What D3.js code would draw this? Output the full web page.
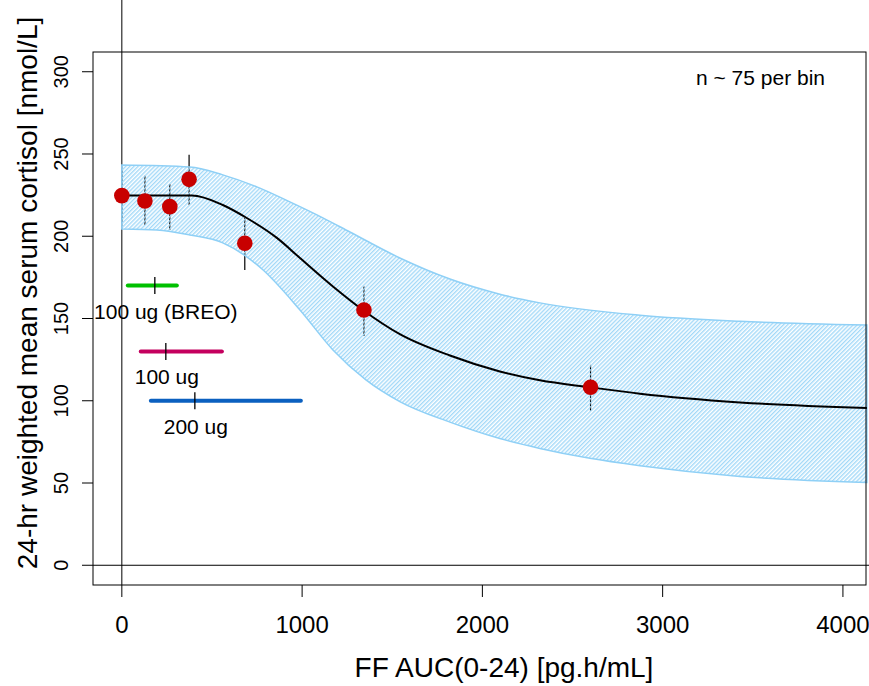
<!DOCTYPE html>
<html>
<head>
<meta charset="utf-8">
<script src="https://cdn.jsdelivr.net/npm/d3@7"></script>
<style>
  html, body { margin: 0; padding: 0; background: #fff; }
  svg { display: block; font-family: "Liberation Sans", Arial, Helvetica, sans-serif; }
</style>
</head>
<body>
<svg id="chart" width="869" height="686"></svg>
<script>
// Binned observations: FF exposure (pg.h/mL) vs mean cortisol (nmol/L)
const binAUC   = [0, 128, 266, 373, 682, 1343, 2600];
const binMean  = [224.7, 221.4, 218.0, 234.6, 195.7, 155.2, 108.2];
const binHigh  = [240.0, 236.7, 231.8, 249.5, 211.1, 169.4, 121.8];
const binLow   = [209.0, 206.9, 203.8, 219.1, 179.5, 139.4, 93.8];

// Model-predicted median curve
const curveAUC  = [0, 388, 560, 693, 860, 988, 1171, 1337, 1542, 1820, 2097, 2319, 2596, 2874, 3429, 4133];
const curveMean = [224.7, 224.7, 219.0, 211.1, 199.0, 186.8, 169.5, 155.2, 140.5, 127.5, 117.8, 112.4, 108.2, 104.3, 99.0, 95.6];

// Prediction interval of the model
const bandAUC   = [0, 377, 560, 749, 932, 1115, 1265, 1542, 1820, 2097, 2319, 2874, 3429, 4133];
const bandUpper = [243.3, 242.1, 237.3, 230.0, 220.9, 211.2, 202.6, 186.8, 174.0, 164.8, 159.5, 152.0, 148.3, 146.0];
const bandLowX  = [0, 194, 377, 560, 693, 782, 988, 1171, 1354, 1542, 1820, 2097, 2319, 2596, 2874, 3429, 4133];
const bandLower = [204.4, 203.8, 200.8, 196.0, 187.5, 179.6, 155.2, 130.9, 112.7, 99.5, 87.0, 77.0, 71.0, 65.0, 60.5, 54.0, 50.3];

// Exposure ranges by dose (lower, median, upper AUC) at a cortisol level
const doseLabel  = ["100 ug (BREO)", "100 ug", "200 ug"];
const doseLow    = [33, 105, 161];
const doseMedian = [183, 244, 405];
const doseHigh   = [305, 555, 993];
const doseLevel  = [170, 130, 100];
const doseColor  = ["#00c000", "#c4005e", "#0b60c0"];

const xTicks = [0, 1000, 2000, 3000, 4000];
const yTicks = [0, 50, 100, 150, 200, 250, 300];

const svg = d3.select("#chart");
const L = 93, R = 866, T = 52, B = 585;

const x = d3.scaleLinear().domain([-160, 4128]).range([L, R]);
const y = d3.scaleLinear().domain([-12, 312]).range([B, T]);

// hatch fill for the interval band
const defs = svg.append("defs");
const pat = defs.append("pattern")
  .attr("id", "hatch")
  .attr("patternUnits", "userSpaceOnUse")
  .attr("width", 2.9).attr("height", 10)
  .attr("patternTransform", "rotate(45)");
pat.append("line")
  .attr("x1", 0.7).attr("y1", -1).attr("x2", 0.7).attr("y2", 11)
  .attr("stroke", "#a3d9f8").attr("stroke-width", 1.4);

// reference lines at zero
svg.append("line")
  .attr("x1", x(0)).attr("x2", x(0)).attr("y1", 0).attr("y2", B)
  .attr("stroke", "#000").attr("stroke-width", 1);
svg.append("line")
  .attr("x1", L).attr("x2", 869).attr("y1", y(0)).attr("y2", y(0))
  .attr("stroke", "#000").attr("stroke-width", 1);

// error bars for bins
const bins = binAUC.map((a, i) => ({ a, m: binMean[i], lo: binLow[i], hi: binHigh[i] }));
svg.append("g").selectAll("line").data(bins).join("line")
  .attr("x1", d => x(d.a)).attr("x2", d => x(d.a))
  .attr("y1", d => y(d.hi)).attr("y2", d => y(d.lo))
  .attr("stroke", "#000").attr("stroke-width", 1.2);

// interval band: upper edge left->right, then lower edge right->left
const smooth = d3.line().curve(d3.curveMonotoneX);
const upperPts = bandAUC.map((a, i) => [x(a), y(bandUpper[i])]);
const lowerPtsRev = bandLowX.map((a, i) => [x(a), y(bandLower[i])]).reverse();
const upperPath = smooth(upperPts);
const lowerRev = smooth(lowerPtsRev);
svg.append("path")
  .attr("d", upperPath + "L" + lowerRev.slice(1) + "Z")
  .attr("fill", "url(#hatch)")
  .attr("stroke", "#8fd0f6").attr("stroke-width", 1.5);

// model curve
svg.append("path")
  .attr("d", d3.line().x(d => x(d[0])).y(d => y(d[1])).curve(d3.curveMonotoneX)(curveAUC.map((a, i) => [a, curveMean[i]])))
  .attr("fill", "none").attr("stroke", "#000").attr("stroke-width", 2);

// bin means
svg.append("g").selectAll("circle").data(bins).join("circle")
  .attr("cx", d => x(d.a)).attr("cy", d => y(d.m)).attr("r", 7.8)
  .attr("fill", "#c80000");

// dose exposure ranges
const doses = doseLabel.map((t, i) => ({ t, lo: doseLow[i], med: doseMedian[i], hi: doseHigh[i], lvl: doseLevel[i], c: doseColor[i] }));
const dg = svg.append("g");
dg.selectAll("line.range").data(doses).join("line").attr("class", "range")
  .attr("x1", d => x(d.lo)).attr("x2", d => x(d.hi))
  .attr("y1", d => y(d.lvl)).attr("y2", d => y(d.lvl))
  .attr("stroke", d => d.c).attr("stroke-width", 4).attr("stroke-linecap", "round");
dg.selectAll("line.med").data(doses).join("line").attr("class", "med")
  .attr("x1", d => x(d.med)).attr("x2", d => x(d.med))
  .attr("y1", d => y(d.lvl) - 8.5).attr("y2", d => y(d.lvl) + 8.5)
  .attr("stroke", "#000").attr("stroke-width", 1.3);
dg.selectAll("text").data(doses).join("text")
  .attr("x", (d, i) => x(d.med) + (i === 0 ? 11 : 1))
  .attr("y", d => y(d.lvl) + 33)
  .attr("text-anchor", "middle").attr("font-size", 21).attr("fill", "#000")
  .text(d => d.t);

// plot frame
svg.append("rect")
  .attr("x", L).attr("y", T).attr("width", R - L).attr("height", B - T)
  .attr("fill", "none").attr("stroke", "#000").attr("stroke-width", 1);

// x axis
const xa = svg.append("g");
xa.selectAll("line").data(xTicks).join("line")
  .attr("x1", d => x(d)).attr("x2", d => x(d)).attr("y1", B).attr("y2", B + 12)
  .attr("stroke", "#000");
xa.selectAll("text").data(xTicks).join("text")
  .attr("x", d => x(d)).attr("y", 633)
  .attr("text-anchor", "middle").attr("font-size", 24)
  .text(d => d);

// y axis
const ya = svg.append("g");
ya.selectAll("line").data(yTicks).join("line")
  .attr("x1", L - 11).attr("x2", L).attr("y1", d => y(d)).attr("y2", d => y(d))
  .attr("stroke", "#000");
ya.selectAll("text").data(yTicks).join("text")
  .attr("transform", d => `translate(68,${y(d)}) rotate(-90)`)
  .attr("text-anchor", "middle").attr("font-size", 20)
  .text(d => d);

// axis titles
svg.append("text")
  .attr("x", 504).attr("y", 677)
  .attr("text-anchor", "middle").attr("font-size", 28)
  .text("FF AUC(0-24) [pg.h/mL]");
svg.append("text")
  .attr("transform", "translate(37,293) rotate(-90)")
  .attr("text-anchor", "middle").attr("font-size", 28)
  .text("24-hr weighted mean serum cortisol [nmol/L]");

// annotation
svg.append("text")
  .attr("x", 696).attr("y", 85)
  .attr("font-size", 21)
  .text("n ~ 75 per bin");
</script>
</body>
</html>
